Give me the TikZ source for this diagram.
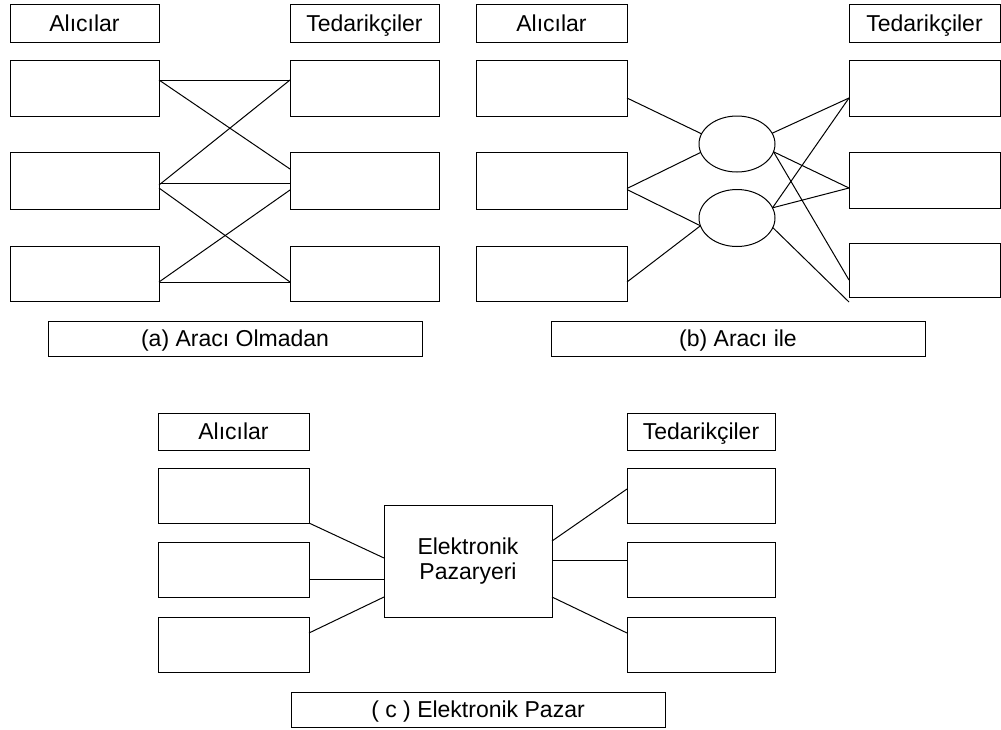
\documentclass[tikz,border=0pt]{standalone}
\usepackage{fontspec}
\setmainfont{Liberation Sans}
\usetikzlibrary{shapes.geometric}
\begin{document}
\begin{tikzpicture}[x=1pt,y=-1pt,
  box/.style={draw, line width=1pt, inner sep=0pt, outer sep=0pt, rectangle},
  fnt/.style={font=\fontsize{23}{25}\selectfont},
  lbl/.style={fnt, text height=16.5pt, text depth=0pt},
  wire/.style={line width=1pt},
  hub/.style={ellipse, draw, line width=1pt, inner sep=0pt, outer sep=0pt, minimum width=76pt, minimum height=56pt}]
\useasboundingbox (0,0) rectangle (1001,729);

% ---------- Panel (a)
\node[box, lbl, minimum width=149pt, minimum height=38pt] (aA) at (84.5,23) {Alıcılar};
\node[box, lbl, minimum width=149pt, minimum height=38pt] (aT) at (364.5,23) {Tedarikçiler};
\node[box, minimum width=149pt, minimum height=56pt] (aL1) at (84.5,88) {};
\node[box, minimum width=149pt, minimum height=57pt] (aL2) at (84.5,180.5) {};
\node[box, minimum width=149pt, minimum height=55pt] (aL3) at (84.5,273.5) {};
\node[box, minimum width=149pt, minimum height=56pt] (aR1) at (364.5,88) {};
\node[box, minimum width=149pt, minimum height=57pt] (aR2) at (364.5,180.5) {};
\node[box, minimum width=149pt, minimum height=55pt] (aR3) at (364.5,273.5) {};
\node[box, lbl, minimum width=374pt, minimum height=35pt] (aC) at (235,338.5) {(a) Aracı Olmadan};

\draw[wire] ([yshift=8pt]aL1.east) -- ([yshift=8pt]aR1.west);
\draw[wire] ([yshift=8pt]aL1.east) -- ([yshift=11.5pt]aR2.west);
\draw[wire] ([yshift=-4.5pt]aL2.east) -- ([yshift=8pt]aR1.west);
\draw[wire] ([yshift=-2.5pt]aL2.east) -- ([yshift=-2.5pt]aR2.west);
\draw[wire] ([yshift=-7.5pt]aL2.east) -- ([yshift=-8.5pt]aR3.west);
\draw[wire] ([yshift=-9.5pt]aR2.west) -- ([yshift=-8.5pt]aL3.east);
\draw[wire] ([yshift=-8.5pt]aL3.east) -- ([yshift=-8.5pt]aR3.west);

% ---------- Panel (b)
\node[box, lbl, minimum width=151pt, minimum height=38pt] (bA) at (551.5,23) {Alıcılar};
\node[box, lbl, minimum width=151pt, minimum height=38pt] (bT) at (924.5,23) {Tedarikçiler};
\node[box, minimum width=151pt, minimum height=56pt] (bL1) at (551.5,88) {};
\node[box, minimum width=151pt, minimum height=57pt] (bL2) at (551.5,180.5) {};
\node[box, minimum width=151pt, minimum height=55pt] (bL3) at (551.5,273.5) {};
\node[box, minimum width=151pt, minimum height=56pt] (bR1) at (924.5,88) {};
\node[box, minimum width=151pt, minimum height=56pt] (bR2) at (924.5,180) {};
\node[box, minimum width=151pt, minimum height=54pt] (bR3) at (924.5,270) {};
\node[hub] (e1) at (737,144) {};
\node[hub, minimum height=57pt] (e2) at (737,218) {};
\coordinate (bEnd) at (849,302);
\node[box, lbl, minimum width=374pt, minimum height=35pt] (bC) at (738,338.5) {(b) Aracı ile};

\draw[wire] ([yshift=-10pt]bL1.east) -- (e1.164);
\draw[wire] ([yshift=-8pt]bL2.east) -- (e1.193);
\draw[wire] ([yshift=-9pt]bL2.east) -- (e2.192);
\draw[wire] ([yshift=-8.5pt]bL3.east) -- (e2.192);
\draw[wire] (e1.17) -- ([yshift=-10pt]bR1.west);
\draw[wire] (e1.348) -- ([yshift=-8pt]bR2.west);
\draw[wire] (e1.348) -- ([yshift=-10pt]bR3.west);
\draw[wire] (e2.16) -- ([yshift=-10pt]bR1.west);
\draw[wire] (e2.16) -- ([yshift=-8pt]bR2.west);
\draw[wire] (e2.345) -- (bEnd);

% ---------- Panel (c)
\node[box, lbl, minimum width=151pt, minimum height=37pt] (cA) at (233.5,431.5) {Alıcılar};
\node[box, lbl, minimum width=148pt, minimum height=37pt] (cT) at (701,431.5) {Tedarikçiler};
\node[box, minimum width=151pt, minimum height=55pt] (cL1) at (233.5,495.5) {};
\node[box, minimum width=151pt, minimum height=55pt] (cL2) at (233.5,569.5) {};
\node[box, minimum width=151pt, minimum height=55pt] (cL3) at (233.5,644.5) {};
\node[box, minimum width=148pt, minimum height=55pt] (cR1) at (701,495.5) {};
\node[box, minimum width=148pt, minimum height=55pt] (cR2) at (701,569.5) {};
\node[box, minimum width=148pt, minimum height=55pt] (cR3) at (701,644.5) {};
\node[box, fnt, align=center, minimum width=168pt, minimum height=112pt] (m) at (468,561) {Elektronik\\Pazaryeri};
\node[box, lbl, minimum width=374pt, minimum height=35pt] (cC) at (478,709.5) {( c ) Elektronik Pazar};

\draw[wire] (cL1.south east) -- ([yshift=3pt]m.west);
\draw[wire] ([yshift=-9.5pt]cL2.east) -- ([yshift=-18pt]m.west);
\draw[wire] ([yshift=11.5pt]cL3.east) -- ([yshift=-36pt]m.west);
\draw[wire] ([yshift=20pt]m.east) -- ([yshift=6.5pt]cR1.west);
\draw[wire] ([yshift=1pt]m.east) -- ([yshift=9.5pt]cR2.west);
\draw[wire] ([yshift=-36pt]m.east) -- ([yshift=11.5pt]cR3.west);
\end{tikzpicture}
\end{document}
